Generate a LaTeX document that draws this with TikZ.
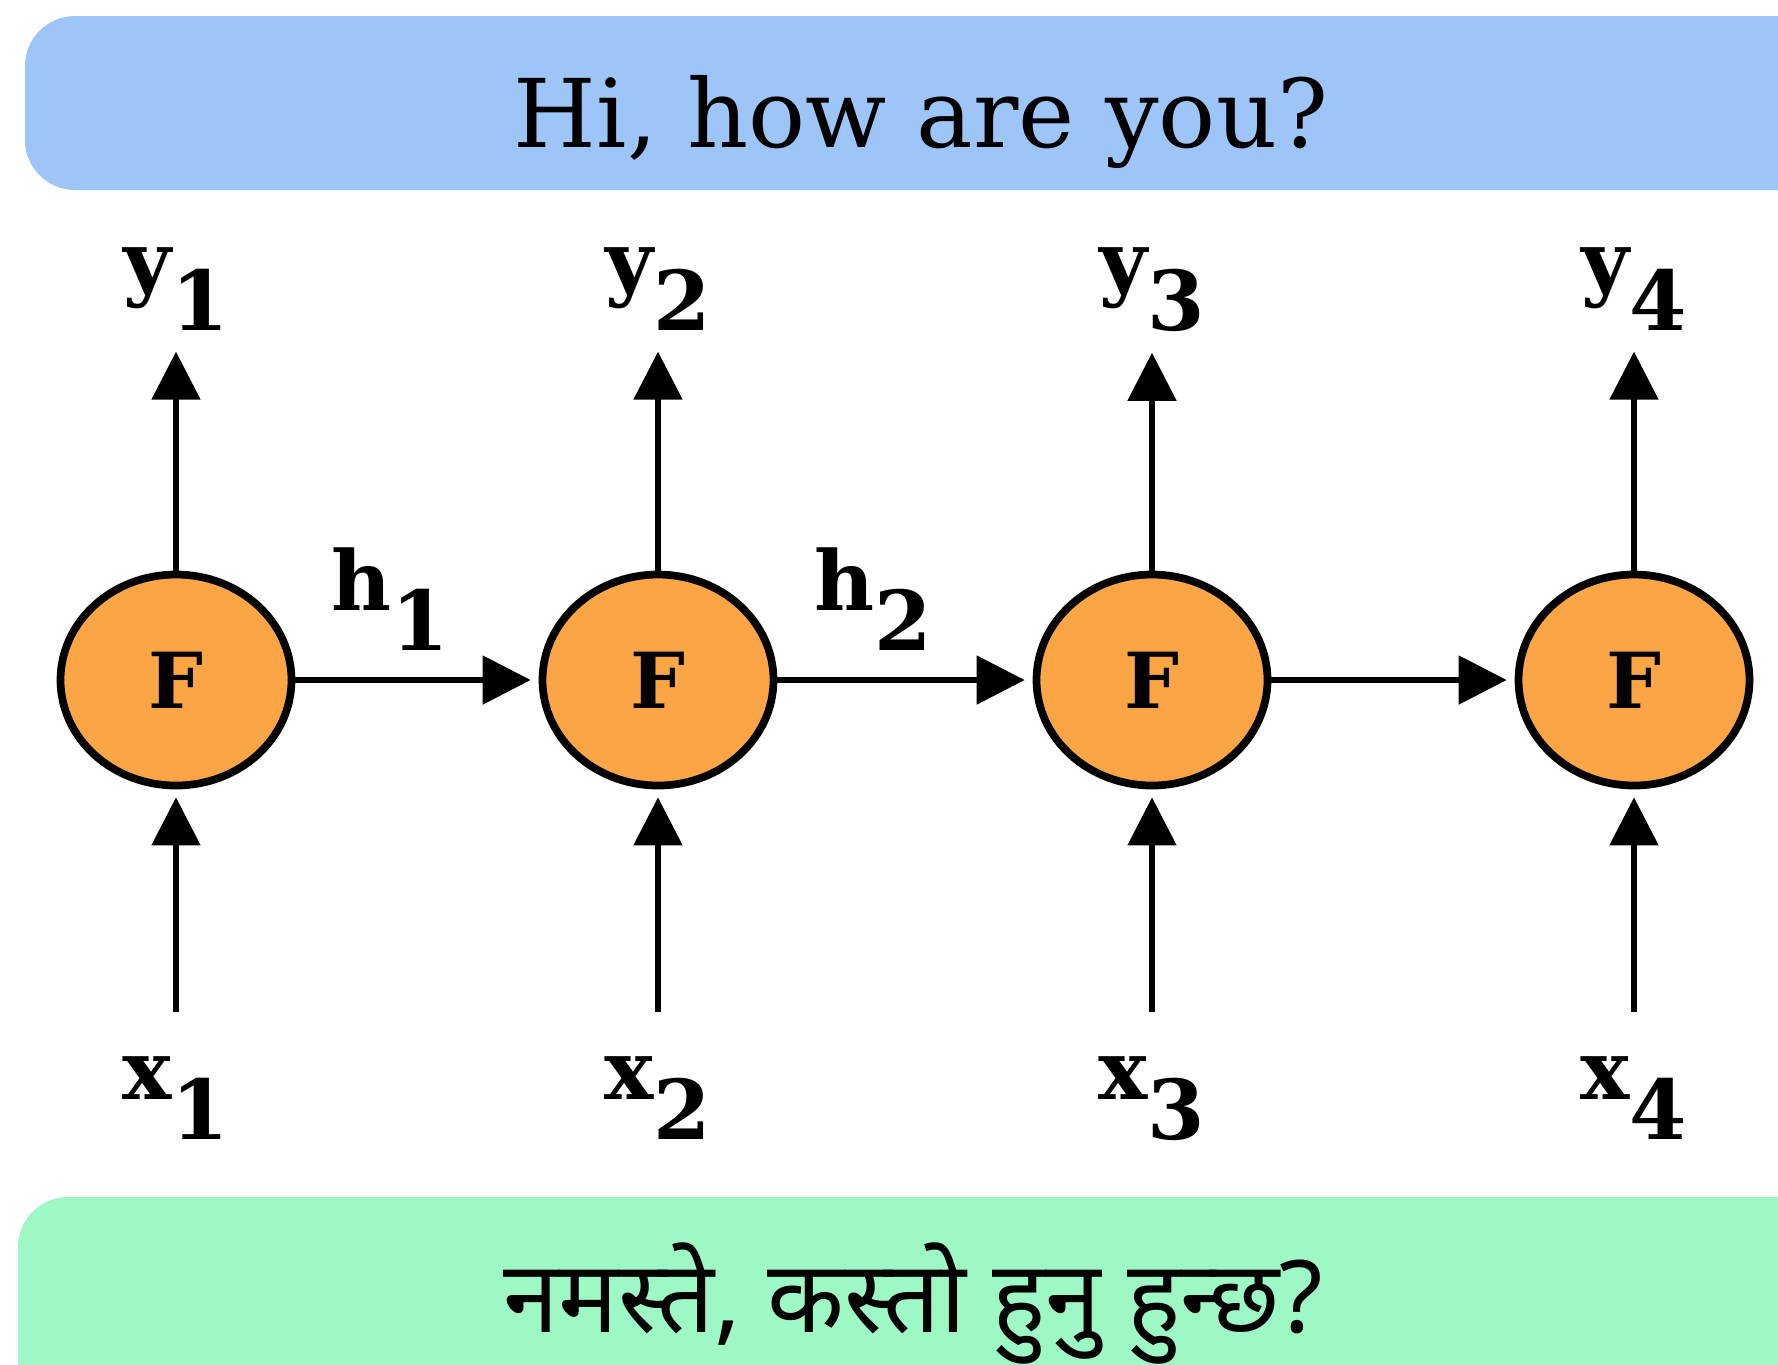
\documentclass[tikz,border=0pt]{standalone}
\usepackage{fontspec}
\setmainfont{DejaVu Serif}
\newfontfamily\devfont[Script=Devanagari]{Noto Sans}
\usetikzlibrary{arrows.meta, shapes.geometric}

\definecolor{barblue}{HTML}{9DC5F8}
\definecolor{bargreen}{HTML}{9EF8C6}
\definecolor{cellorange}{HTML}{FBA546}

\newcommand{\sublab}[2]{#1\raisebox{-0.40cm}{#2}}

\begin{document}
\begin{tikzpicture}[>={Triangle[length=0.48cm, width=0.48cm]}, line width=1.5pt,
    cell/.style={ellipse, draw, line width=2.2pt, fill=cellorange, minimum width=2.31cm, minimum height=2.11cm, inner sep=0pt, font=\fontsize{22}{26}\selectfont\bfseries},
    lab/.style={inner sep=0pt, font=\fontsize{23.5}{28}\selectfont\bfseries}]
    \useasboundingbox (0,0) rectangle (17.78,-13.64);
    \clip (0,0) rectangle (17.78,-13.64);

    % sentence bars
    \fill[barblue, rounded corners=0.5cm] (0.25,-0.16) rectangle (18.6,-1.90);
    \node[anchor=base, font=\fontsize{27}{32}\selectfont] (src) at (9.21,-1.47) {Hi, how are you?};
    \fill[bargreen, rounded corners=0.5cm] (0.18,-11.97) rectangle (18.6,-14.6);
    \node[anchor=base, font=\fontsize{28.5}{34}\selectfont\devfont] (tgt) at (9.13,-13.32) {नमस्ते, कस्तो हुनु हुन्छ?};

    % cells with inputs and outputs
    \foreach \i/\x in {1/1.76, 2/6.58, 3/11.52, 4/16.34} {
        \node[cell] (F\i) at (\x,-6.80) {F};
        \node[lab, anchor=base] (y\i) at (\x,-2.90) {\sublab{y}{\i}};
        \node[lab, anchor=base] (x\i) at (\x,-10.99) {\sublab{x}{\i}};
        \draw[->, shorten >=0.19cm] (F\i) -- (y\i);
        \draw[->, shorten <=0.42cm, shorten >=0.08cm] (x\i) -- (F\i);
    }

    % hidden states
    \foreach \i/\j in {1/2, 2/3, 3/4}
        \draw[->, shorten >=0.08cm] (F\i) -- (F\j);
    \node[lab, anchor=base] (h1) at (3.90,-6.10) {\sublab{h}{1}};
    \node[lab, anchor=base] (h2) at (8.73,-6.10) {\sublab{h}{2}};
\end{tikzpicture}
\end{document}
